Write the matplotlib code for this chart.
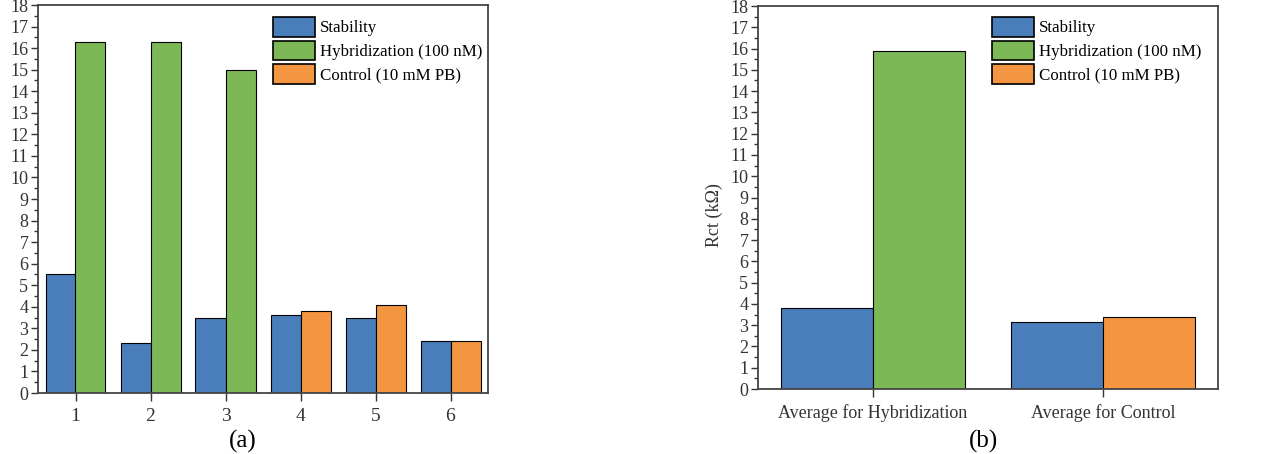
import numpy as np
import matplotlib
matplotlib.use('Agg')
import matplotlib.pyplot as plt
from matplotlib.ticker import MultipleLocator

plt.rcParams['font.family'] = ['Liberation Serif', 'DejaVu Serif']

# data for panel (a)
runs = [1, 2, 3, 4, 5, 6]
stab_a = [5.5, 2.3, 3.5, 3.6, 3.5, 2.4]
hyb_runs = [1, 2, 3]
hyb_a = [16.3, 16.3, 15.0]
ctrl_runs = [4, 5, 6]
ctrl_a = [3.8, 4.1, 2.4]

# data for panel (b)
groups = ['Average for Hybridization', 'Average for Control']
stab_b = [3.8, 3.15]
hyb_b = 15.9
ctrl_b = 3.4

c_blue = '#4a7ebb'
c_green = '#7db857'
c_orange = '#f39541'
labels = ['Stability', 'Hybridization (100 nM)', 'Control (10 mM PB)']

W, H = 1281, 454
fig = plt.figure(figsize=(W/100, H/100), dpi=100)
ax1 = fig.add_axes([38/W, 1-393/H, 450/W, 388/H])
ax2 = fig.add_axes([758/W, 1-389/H, 460/W, 383/H])

w = 0.4
x = np.array(runs)
ax1.bar(x - w/2, stab_a, w, color=c_blue, edgecolor='black', linewidth=0.8)
ax1.bar(np.array(hyb_runs) + w/2, hyb_a, w, color=c_green, edgecolor='black', linewidth=0.8)
ax1.bar(np.array(ctrl_runs) + w/2, ctrl_a, w, color=c_orange, edgecolor='black', linewidth=0.8)
ax1.set_xlim(0.5, 6.5)
ax1.set_xticks(runs)

xb = np.arange(len(groups))
ax2.bar(xb - w/2, stab_b, w, color=c_blue, edgecolor='black', linewidth=0.8)
ax2.bar(xb[0] + w/2, hyb_b, w, color=c_green, edgecolor='black', linewidth=0.8)
ax2.bar(xb[1] + w/2, ctrl_b, w, color=c_orange, edgecolor='black', linewidth=0.8)
ax2.set_xlim(-0.5, 1.5)
ax2.set_xticks(xb)
ax2.set_xticklabels(groups)
ax2.set_ylabel('Rct (k\u03a9)', fontsize=13, color='#333333')
ax2.yaxis.set_label_coords(-0.076, 0.455)

# panel (a) y label sits mostly past the left edge, as in the original
ax1.set_ylabel('Rct (k\u03a9)', fontsize=13, color='#333333')
ax1.yaxis.set_label_coords(-0.086, 0.455)

for ax in (ax1, ax2):
    ax.set_ylim(0, 18)
    ax.yaxis.set_major_locator(MultipleLocator(1))
    ax.yaxis.set_minor_locator(MultipleLocator(0.5))
    ax.tick_params(axis='y', which='major', direction='out', length=5, width=1, labelsize=13, pad=2, colors='#333333')
    ax.tick_params(axis='y', which='minor', direction='out', length=3, width=1, colors='#333333')
    ax.tick_params(axis='x', direction='out', length=6, width=1, pad=5, colors='#333333')
    for s in ax.spines.values():
        s.set_linewidth(1.3)
        s.set_color('#444444')
    ax.legend([plt.Rectangle((0, 0), 1, 1, fc=c, ec='black', lw=1.2) for c in (c_blue, c_green, c_orange)],
              labels, frameon=False, fontsize=12.2, handlelength=2.45, handleheight=1.4,
              labelspacing=0.24, handletextpad=0.3, borderpad=0, borderaxespad=0,
              loc='upper left',
              bbox_transform=fig.transFigure,
              bbox_to_anchor=((273 if ax is ax1 else 992)/W, 1-17/H))
ax1.tick_params(axis='x', labelsize=14)
ax2.tick_params(axis='x', labelsize=13)

fig.text(243/W, 1-441/H, '(a)', fontsize=18, ha='center', va='center')
fig.text(983/W, 1-441/H, '(b)', fontsize=18, ha='center', va='center')

fig.savefig('out.png', dpi=100)
